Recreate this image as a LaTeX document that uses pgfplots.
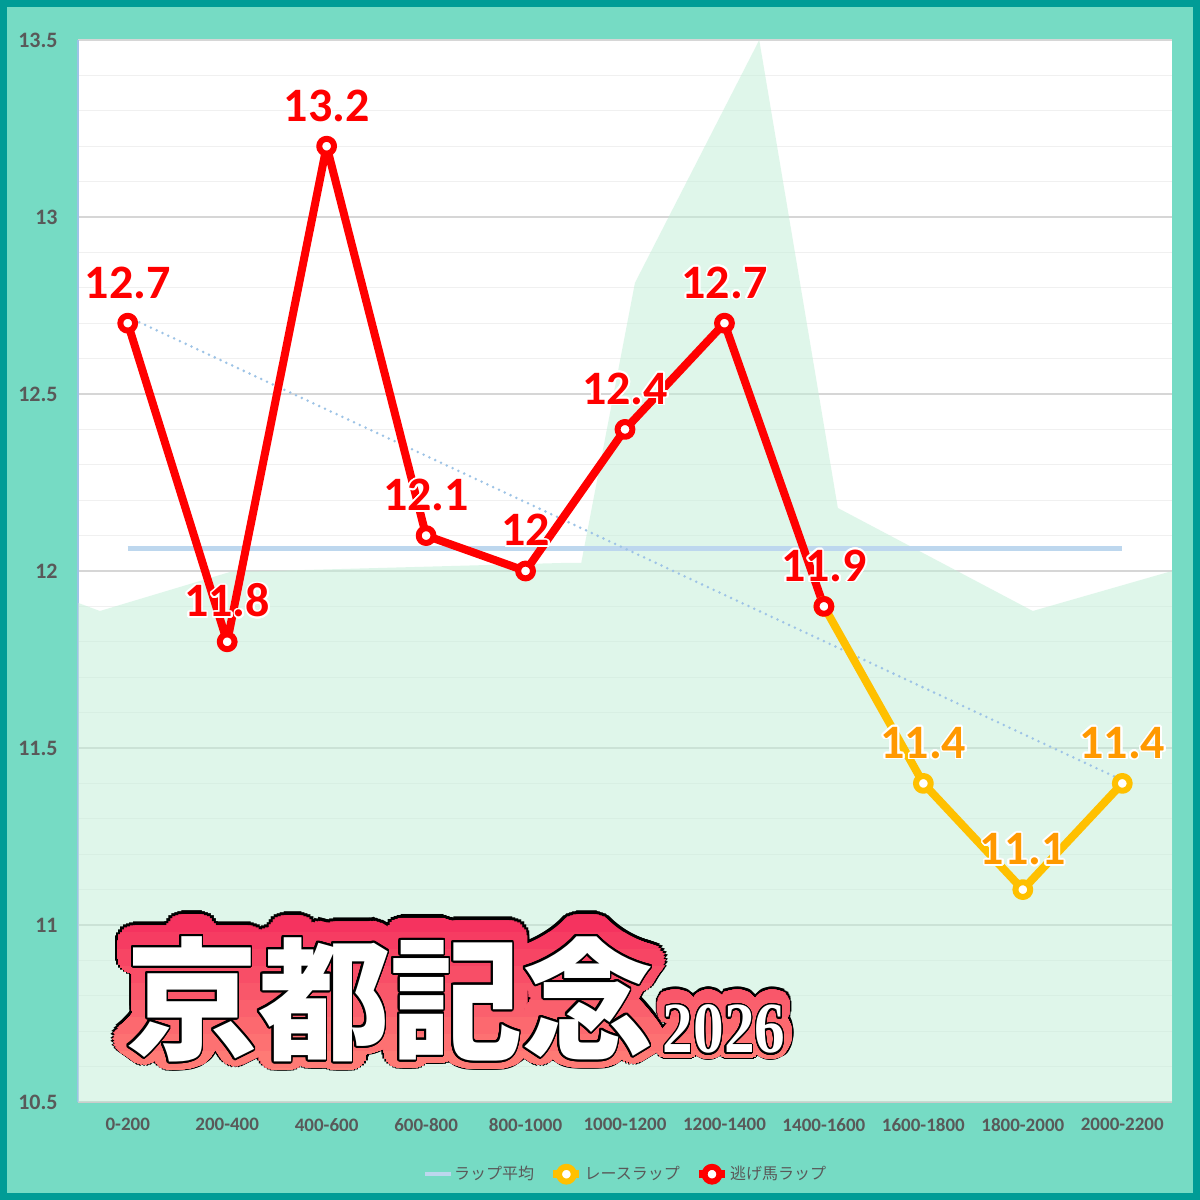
\documentclass[border=0pt]{standalone}
\usepackage{pgfplots}
\pgfplotsset{compat=1.18, /pgf/number format/assume math mode=true}
\usepackage{fontspec}
\setmainfont{Carlito}
\newfontfamily\cjk{Noto Sans CJK JP}
\newfontfamily\serifb{Liberation Serif}
\usepackage{contour}
\contournumber{32}
\definecolor{tealB}{HTML}{009C96}
\definecolor{mint}{HTML}{76DBC4}
\definecolor{areaG}{HTML}{C1EFD7}
\definecolor{avgc}{HTML}{BDD7EE}
\definecolor{trendc}{HTML}{9DC3E6}
\definecolor{orangeL}{HTML}{FFC000}
\definecolor{orangeT}{HTML}{FF9900}
\definecolor{tickc}{HTML}{595959}
\definecolor{pinkT}{HTML}{F5335F}
\definecolor{pinkB}{HTML}{FF8478}
\begin{document}
\begin{tikzpicture}
\useasboundingbox (0,0) rectangle (600bp,600bp);
\fill[tealB] (0,0) rectangle (600bp,600bp);
\fill[mint] (3.5bp,3.5bp) rectangle (596.5bp,596.5bp);
\begin{axis}[
  at={(39bp,49bp)}, anchor=south west, scale only axis,
  width=547bp, height=531bp,
  xmin=-0.5, xmax=10.5, ymin=10.5, ymax=13.5,
  axis background/.style={fill=white},
  axis x line*=bottom, axis y line*=left,
  x axis line style={-, draw=black!20, line width=0.7bp},
  y axis line style={-, draw=trendc, line width=0.7bp},
  ytick={10.5,11,11.5,12,12.5,13,13.5},
  minor y tick num=4,
  ymajorgrids, yminorgrids,
  major grid style={draw=black!16, line width=0.6bp},
  minor grid style={draw=black!6, line width=0.6bp},
  major tick length=0pt, minor tick length=0pt,
  xtick={0,...,10},
  xticklabels={0-200,200-400,400-600,600-800,800-1000,1000-1200,1200-1400,1400-1600,1600-1800,1800-2000,2000-2200},
  yticklabel style={font=\bfseries\fontsize{11bp}{13bp}\selectfont, text=tickc, anchor=east, inner sep=0pt, xshift=-10bp},
  xticklabel style={font=\bfseries\fontsize{9.5bp}{11bp}\selectfont, text=tickc, anchor=north, inner sep=0pt, yshift=-8bp},
  legend style={at={(0.5,-0.068)}, anchor=center, draw=none, fill=none,
    legend columns=3, font=\cjk\fontsize{8bp}{10bp}\selectfont, text=tickc,
    nodes={inner sep=0.6bp},
    /tikz/every even column/.append style={column sep=7bp},
    /tikz/every odd column/.append style={column sep=0bp}},
  legend image code/.code={\draw[mark repeat=2, mark phase=2, #1] plot coordinates {(0bp,0bp) (6.5bp,0bp) (13bp,0bp)};},
  every node near coord/.append style={font=\bfseries\fontsize{24bp}{24bp}\selectfont, anchor=base, inner sep=0pt, yshift=12.5bp},
]
% background area
\addplot[draw=none, fill=areaG, fill opacity=0.5, forget plot] coordinates {
 (-0.5,10.5) (-0.5,11.91) (-0.28,11.887) (1.025,11.997) (4.41,12.023) (4.56,12.023)
 (5.10,12.814) (6.35,13.5) (7.14,12.178) (9.10,11.887) (10.5,12.0) (10.5,10.5)} -- cycle;
% average
\addplot[avgc, line width=2.2bp] coordinates {(0,12.0636) (10,12.0636)};
\addlegendentry{ラップ平均}
% trend
\addplot[trendc, line width=1.4bp, line cap=round, dash pattern=on 0pt off 3.2bp, forget plot] coordinates {(0,12.718) (10,11.409)};
% race lap (orange)
\addplot[orangeL, line width=4bp, line join=round, mark=*, mark size=3.7bp, mark options={fill=white, draw=orangeL, line width=3bp}] coordinates {(7,11.9) (8,11.4) (9,11.1) (10,11.4)};
\addlegendentry{レースラップ}
\addplot[draw=none, mark=none, forget plot, nodes near coords={\contourlength{0.8bp}\contour{white}{\pgfmathprintnumber{\pgfplotspointmeta}}}, every node near coord/.append style={text=orangeT}] coordinates {(8,11.4) (9,11.1) (10,11.4)};
% front runner lap (red)
\addplot[red, line width=4bp, line join=round, mark=*, mark size=3.7bp, mark options={fill=white, draw=red, line width=3bp},
  nodes near coords={\contourlength{0.8bp}\contour{white}{\pgfmathprintnumber{\pgfplotspointmeta}}}, every node near coord/.append style={text=red}] coordinates {(0,12.7) (1,11.8) (2,13.2) (3,12.1) (4,12) (5,12.4) (6,12.7) (7,11.9)};
\addlegendentry{逃げ馬ラップ}
\end{axis}
% title
\def\TT{\cjk\bfseries\fontsize{66bp}{66bp}\selectfont 京都記念}
\def\YY{\serifb\bfseries\fontsize{36bp}{36bp}\selectfont 2026}
\coordinate (T) at (195bp,100bp);
\coordinate (Y) at (362bp,85bp);
\node[inner sep=0pt] at (T) {\color{black}\contourlength{8.8bp}\contour{black}{\TT}};
\node[inner sep=0pt, xscale=0.85] at (Y) {\color{black}\contourlength{6.2bp}\contour{black}{\YY}};
\foreach \i in {0,...,9}{
  \pgfmathtruncatemacro\pp{100-11*\i}
  \pgfmathsetmacro\yb{\i==0 ? 600 : 142-8.5*\i}
  \colorlet{bandc}{pinkT!\pp!pinkB}
  \begin{scope}
    \clip (0,0) rectangle (600bp,\yb bp);
    \node[inner sep=0pt] at (T) {\color{bandc}\contourlength{7.6bp}\contour{bandc}{\TT}};
    \node[inner sep=0pt, xscale=0.85] at (Y) {\color{bandc}\contourlength{5.2bp}\contour{bandc}{\YY}};
  \end{scope}
}
\node[inner sep=0pt] at (T) {\color{white}\contourlength{0.9bp}\contour{black}{\TT}};
\node[inner sep=0pt, xscale=0.85] at (Y) {\color{white}\contourlength{0.7bp}\contour{black}{\YY}};
\end{tikzpicture}
\end{document}
